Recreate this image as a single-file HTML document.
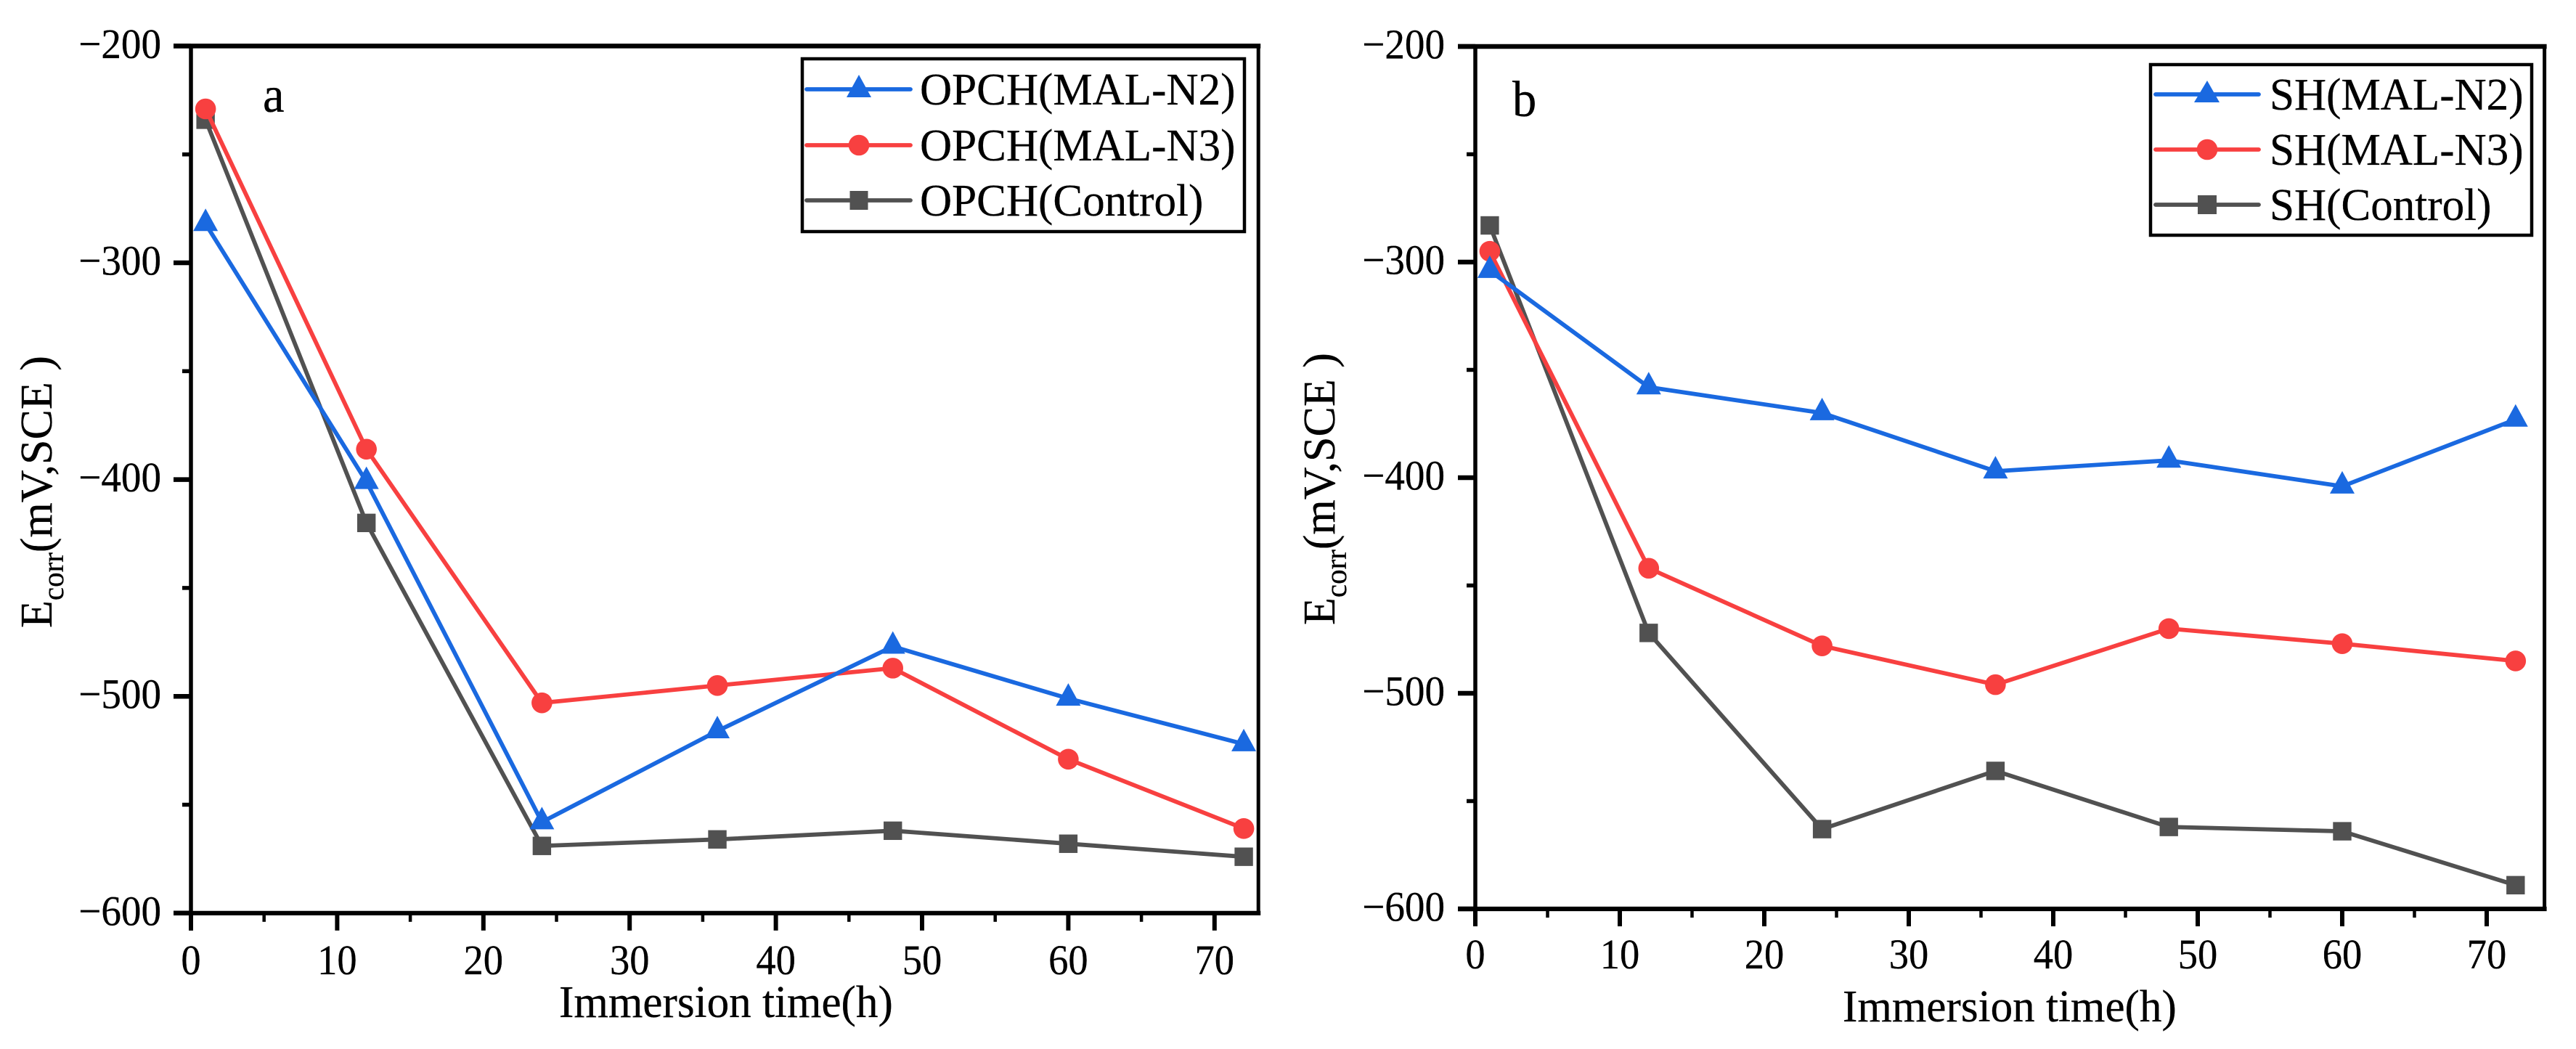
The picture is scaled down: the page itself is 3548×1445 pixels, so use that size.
<!DOCTYPE html>
<html lang="en">
<head>
<meta charset="utf-8">
<title>Ecorr vs immersion time</title>
<style>
html,body{margin:0;padding:0;background:#fff;}
svg{display:block;}
text{font-family:"Liberation Serif","Times New Roman",serif;fill:#000;stroke:#000;stroke-width:.3px;white-space:pre;}
</style>
</head>
<body>
<svg id="chart" xmlns="http://www.w3.org/2000/svg" width="3548" height="1445" viewBox="0 0 3548 1445">
  <rect x="0" y="0" width="3548" height="1445" fill="#ffffff"/>

  <g id="panel-a">
    <g id="a-series"></g>
    <g id="a-axes"></g>
    <text transform="translate(362 154) scale(.95 1)" font-size="70">a</text>
    <text transform="translate(770 1401) scale(.97 1)" font-size="63">Immersion time(h)</text>
    <text transform="translate(71 865) rotate(-90)" font-size="62">E<tspan font-size="41" dy="16">corr</tspan><tspan dy="-16">(mV,SCE )</tspan></text>
    <g>
      <rect x="1105" y="81" width="609" height="238" fill="#fff" stroke="#000" stroke-width="4.5"/>
      <g>
        <line x1="1111" x2="1254" y1="123" y2="123" stroke="#1a69e0" stroke-width="5.8" stroke-linecap="round"/>
        <polygon points="1183,103 1200,134 1166,134" fill="#1a69e0"/>
        <text transform="translate(1267 144) scale(.97 1)" font-size="63">OPCH(MAL-N2)</text>
      </g>
      <g>
        <line x1="1111" x2="1254" y1="200" y2="200" stroke="#f84040" stroke-width="5.8" stroke-linecap="round"/>
        <circle cx="1183" cy="200" r="14.3" fill="#f84040"/>
        <text transform="translate(1267 221) scale(.97 1)" font-size="63">OPCH(MAL-N3)</text>
      </g>
      <g>
        <line x1="1111" x2="1254" y1="276" y2="276" stroke="#515151" stroke-width="5.8" stroke-linecap="round"/>
        <rect x="1170.5" y="263" width="25" height="26" fill="#515151"/>
        <text transform="translate(1267 297) scale(.97 1)" font-size="63">OPCH(Control)</text>
      </g>
    </g>
  </g>

  <g id="panel-b">
    <g id="b-series"></g>
    <g id="b-axes"></g>
    <text transform="translate(2083 160) scale(.95 1)" font-size="70">b</text>
    <text transform="translate(2538 1407) scale(.97 1)" font-size="63">Immersion time(h)</text>
    <text transform="translate(1838 861) rotate(-90)" font-size="62">E<tspan font-size="41" dy="16">corr</tspan><tspan dy="-16">(mV,SCE )</tspan></text>
    <g>
      <rect x="2962" y="89" width="525" height="235" fill="#fff" stroke="#000" stroke-width="4.5"/>
      <g>
        <line x1="2969" x2="3111" y1="130" y2="130" stroke="#1a69e0" stroke-width="5.8" stroke-linecap="round"/>
        <polygon points="3040,111 3057,141 3022,141" fill="#1a69e0"/>
        <text transform="translate(3126 151) scale(.97 1)" font-size="63">SH(MAL-N2)</text>
      </g>
      <g>
        <line x1="2969" x2="3111" y1="206" y2="206" stroke="#f84040" stroke-width="5.8" stroke-linecap="round"/>
        <circle cx="3040" cy="206" r="14.3" fill="#f84040"/>
        <text transform="translate(3126 227) scale(.97 1)" font-size="63">SH(MAL-N3)</text>
      </g>
      <g>
        <line x1="2969" x2="3111" y1="282" y2="282" stroke="#515151" stroke-width="5.8" stroke-linecap="round"/>
        <rect x="3027" y="269" width="26" height="26" fill="#515151"/>
        <text transform="translate(3126 303) scale(.97 1)" font-size="63">SH(Control)</text>
      </g>
    </g>
  </g>
</svg>

<script>
var timeHours = [1, 12, 24, 36, 48, 60, 72];

var opchN2 = [-282, -401, -558, -516, -477, -501, -522];
var opchN3 = [-229, -386, -503, -495, -487, -529, -561];
var opchControl = [-234, -420, -569, -566, -562, -568, -574];

var shN2 = [-304, -358, -370, -397, -392, -404, -373];
var shN3 = [-295, -442, -478, -496, -470, -477, -485];
var shControl = [-283, -472, -563, -536, -562, -564, -589];

var xTickLabels = [0, 10, 20, 30, 40, 50, 60, 70];
var xMinorTicks = [5, 15, 25, 35, 45, 55, 65];
var yTickLabels = [-200, -300, -400, -500, -600];
var yMinorTicks = [-250, -350, -450, -550];

var NS = 'http://www.w3.org/2000/svg';
var BLUE = '#1a69e0', RED = '#f84040', GRAY = '#515151';

function el(parent, tag, attrs, text) {
  var node = document.createElementNS(NS, tag);
  for (var k in attrs) node.setAttribute(k, attrs[k]);
  if (text !== undefined) node.textContent = text;
  parent.appendChild(node);
  return node;
}

function drawAxes(group, cfg, sx, sy) {
  var L = sx(0), R = sx(cfg.xMax), T = sy(-200), B = sy(-600);
  var top = el(group, 'line', {x1: L - 24, x2: R + 3, y1: T, y2: T, stroke: '#000', 'stroke-width': 6.5});
  
  
  var right = el(group, 'line', {x1: R, x2: R, y1: T, y2: B, stroke: '#000', 'stroke-width': 5});
  
  
  var left = el(group, 'line', {x1: L, x2: L, y1: T, y2: B + 24, stroke: '#000', 'stroke-width': 5.5});
  
  
  var bottom = el(group, 'line', {x1: L - 24, x2: R + 3, y1: B, y2: B, stroke: '#000', 'stroke-width': 6.2});
  
  

  xTickLabels.forEach(function (v) {
    var x = sx(v);
    var tick = el(group, 'line', {x1: x, x2: x, y1: B, y2: B + 24, stroke: '#000', 'stroke-width': 6});
    
    
    var label = el(group, 'text', {
      transform: 'translate(' + x + ' ' + (B + cfg.xLabelDy) + ') scale(.94 1)',
      'text-anchor': 'middle', 'font-size': 58
    }, String(v));
    
    
  });
  xMinorTicks.forEach(function (v) {
    var x = sx(v);
    var tick = el(group, 'line', {x1: x, x2: x, y1: B, y2: B + 12, stroke: '#000', 'stroke-width': 4.5});
    
    
  });
  yTickLabels.forEach(function (v) {
    var y = sy(v);
    var tick = el(group, 'line', {x1: L - 24, x2: L, y1: y, y2: y, stroke: '#000', 'stroke-width': 6.5});
    
    
    var label = el(group, 'text', {
      transform: 'translate(' + cfg.yLabelRight + ' ' + (y + 16.5) + ') scale(.95 1)',
      'text-anchor': 'end', 'font-size': 58
    }, '\u2212' + Math.abs(v));
    
    
  });
  yMinorTicks.forEach(function (v) {
    var y = sy(v);
    var tick = el(group, 'line', {x1: L - 12, x2: L, y1: y, y2: y, stroke: '#000', 'stroke-width': 5.5});
    
    
  });
}

function drawSeries(group, name, values, color, shape, sx, sy) {
  var g = el(group, 'g', {});
  
  
  var pts = values.map(function (v, i) { return sx(timeHours[i]).toFixed(1) + ',' + sy(v).toFixed(1); }).join(' ');
  var line = el(g, 'polyline', {points: pts, fill: 'none', stroke: color, 'stroke-width': 5.8, 'stroke-linejoin': 'round'});
  
  
  values.forEach(function (v, i) {
    var x = sx(timeHours[i]), y = sy(v), mark;
    if (shape === 'triangle') {
      mark = el(g, 'polygon', {points: x + ',' + (y - 21) + ' ' + (x + 17) + ',' + (y + 10) + ' ' + (x - 17) + ',' + (y + 10), fill: color});
    } else if (shape === 'circle') {
      mark = el(g, 'circle', {cx: x, cy: y, r: 14.3, fill: color});
    } else {
      mark = el(g, 'rect', {x: x - 12.7, y: y - 12.7, width: 25.4, height: 25.4, fill: color});
    }
    
    
  });
}

function drawPanel(cfg) {
  function sx(v) { return cfg.x0 + v * cfg.xScale; }
  function sy(v) { return cfg.yTop + (-200 - v) * cfg.yScale; }
  var seriesGroup = document.getElementById(cfg.id + '-series');
  var axesGroup = document.getElementById(cfg.id + '-axes');
  drawSeries(seriesGroup, cfg.prefix + '-control', cfg.control, GRAY, 'square', sx, sy);
  drawSeries(seriesGroup, cfg.prefix + '-mal-n3', cfg.n3, RED, 'circle', sx, sy);
  drawSeries(seriesGroup, cfg.prefix + '-mal-n2', cfg.n2, BLUE, 'triangle', sx, sy);
  drawAxes(axesGroup, cfg, sx, sy);
  axesGroup.parentNode.insertBefore(axesGroup, seriesGroup);
}

drawPanel({id: 'a', prefix: 'opch', n2: opchN2, n3: opchN3, control: opchControl,
  x0: 263, xScale: 20.14, xMax: 73, yTop: 63.4, yScale: 2.986, xLabelDy: 84, yLabelRight: 222});
drawPanel({id: 'b', prefix: 'sh', n2: shN2, n3: shN3, control: shControl,
  x0: 2032, xScale: 19.9, xMax: 74, yTop: 64, yScale: 2.97, xLabelDy: 82, yLabelRight: 1990});
</script>
</body>
</html>
